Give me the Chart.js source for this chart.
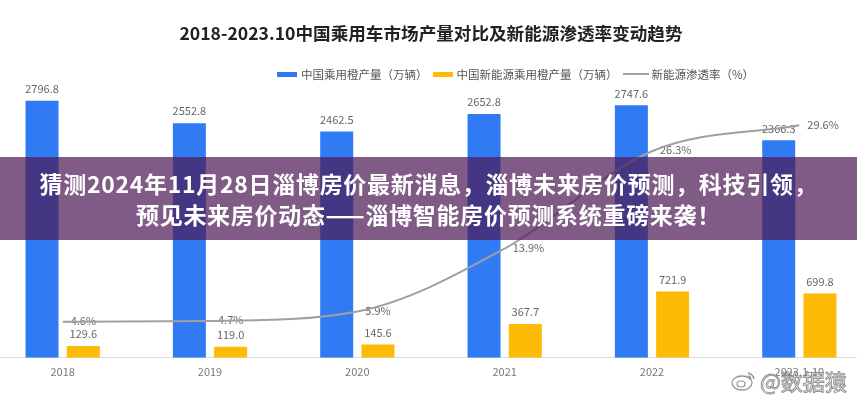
<!DOCTYPE html>
<html>
<head>
<meta charset="utf-8">
<script src="https://cdn.jsdelivr.net/npm/chart.js@4.4.0/dist/chart.umd.min.js"></script>
<style>
  body { margin: 0; width: 857px; height: 400px; overflow: hidden; background: #fff; position: relative;
         font-family: "Noto Sans CJK SC", sans-serif; }
  /* chart is a bit wider than the window: the source picture is cropped at both sides */
  #wrap { position: absolute; left: -11px; top: 0; width: 884px; height: 400px; }
  #legend { position: absolute; left: 277px; top: 65px; display: flex; align-items: center;
            font-size: 11.5px; color: #555; white-space: nowrap; line-height: 18px; }
  #legend .mk { display: inline-block; width: 20px; height: 5px; margin-right: 4px; }
  #legend .ln { display: inline-block; width: 26px; height: 2px; margin-right: 3px; }
  #legend .item { display: flex; align-items: center; margin-right: 5px; }
  #banner { position: absolute; left: 0; top: 157px; width: 857px; height: 83px;
            background: rgba(78, 28, 88, 0.72); color: #fff; text-align: center;
            font-weight: bold; font-size: 23px; letter-spacing: 0.7px; line-height: 31px;
            padding-top: 11px; box-sizing: border-box; }
  #mark { position: absolute; left: 731px; top: 364px; display: flex; align-items: center;
          font-size: 22px; color: rgba(255,255,255,0.85); -webkit-text-stroke: 1px rgba(110,110,110,0.75); }
</style>
</head>
<body>
<div id="wrap"><canvas id="c"></canvas></div>
<div id="legend"></div>
<div id="banner">猜测2024年11月28日淄博房价最新消息，淄博未来房价预测，科技引领，<br>预见未来房价动态——淄博智能房价预测系统重磅来袭！</div>
<div id="mark">
  <svg width="26" height="22" viewBox="0 0 26 22">
    <ellipse cx="11" cy="14" rx="10" ry="7" fill="rgba(255,255,255,0.8)" stroke="rgba(110,110,110,0.75)" stroke-width="1.3"/>
    <ellipse cx="10" cy="15" rx="4" ry="3" fill="none" stroke="rgba(110,110,110,0.75)" stroke-width="1.2"/>
    <path d="M17 4 q5 1 6 6 M17 7 q2 0 3 3" fill="none" stroke="rgba(110,110,110,0.75)" stroke-width="1.3"/>
  </svg>
  <span style="margin-left:3px">@数据猿</span>
</div>
<script>
const years = ["2018", "2019", "2020", "2021", "2022", "2023.1-10"];
const totalOutput = [2796.8, 2552.8, 2462.5, 2652.8, 2747.6, 2366.3];   // 中国乘用车产量（万辆）
const nevOutput = [129.6, 119.0, 145.6, 367.7, 721.9, 699.8];           // 新能源乘用车产量（万辆）
const penetration = [4.6, 4.7, 5.9, 13.9, 26.3, 29.6];                  // 新能源渗透率（%）

const seriesNames = ["中国乘用橙产量（万辆）", "中国新能源乘用橙产量（万辆）", "新能源渗透率（%）"];
const BLUE = "#307bf4";
const YELLOW = "#fdbb05";
const GREY = "#a0a0a0";

const Y_MAX = 3000;
const Y2_MAX = 35.1;

// value labels, drawn before the datasets so the line crosses them like in the source
const valueLabels = {
  id: "valueLabels",
  beforeDatasetsDraw(chart) {
    const ctx = chart.ctx;
    ctx.save();
    ctx.font = '11px "Noto Sans CJK SC"';
    ctx.fillStyle = "#666";
    ctx.textBaseline = "middle";
    chart.data.datasets.forEach((ds, i) => {
      const meta = chart.getDatasetMeta(i);
      meta.data.forEach((el, j) => {
        const v = ds.data[j];
        if (ds.type === "line") {
          ctx.textAlign = "left";
          ctx.fillText(v.toFixed(1) + "%", el.x + 8, el.y - 1);
        } else {
          ctx.textAlign = "center";
          ctx.fillText(v.toFixed(1), el.x, el.y - 12);
        }
      });
    });
    ctx.restore();
  },
};

const chart = new Chart(document.getElementById("c"), {
  data: {
    labels: years,
    datasets: [
      {
        type: "line",
        label: seriesNames[2],
        data: penetration,
        yAxisID: "y2",
        borderColor: GREY,
        borderWidth: 2,
        pointRadius: 0,
        cubicInterpolationMode: "monotone",
        order: 0,
      },
      {
        type: "bar",
        label: seriesNames[0],
        data: totalOutput,
        backgroundColor: BLUE,
        categoryPercentage: 0.56,
        barPercentage: 0.8,
        order: 1,
      },
      {
        type: "bar",
        label: seriesNames[1],
        data: nevOutput,
        backgroundColor: YELLOW,
        categoryPercentage: 0.56,
        barPercentage: 0.8,
        order: 2,
      },
    ],
  },
  options: {
    responsive: true,
    maintainAspectRatio: false,
    animation: false,
    layout: { padding: { top: 0, bottom: 15, left: 0, right: 0 } },
    plugins: {
      legend: { display: false },
      tooltip: { enabled: false },
      title: {
        display: true,
        text: "2018-2023.10中国乘用车市场产量对比及新能源渗透率变动趋势",
        color: "#222",
        font: { family: "Noto Sans CJK SC", size: 17.6, weight: "bold", lineHeight: 1.2 },
        padding: { top: 22.5, bottom: 38.5 },
      },
    },
    scales: {
      x: {
        grid: { display: false, drawTicks: false },
        border: { display: true, color: "#dcdcdc", width: 1 },
        ticks: { color: "#777", padding: 7, font: { family: "Noto Sans CJK SC", size: 11 } },
      },
      y: { display: false, min: 0, max: Y_MAX },
      y2: { display: false, min: 0, max: Y2_MAX, position: "right" },
    },
  },
  plugins: [valueLabels],
});

// legend built from the chart's datasets (order: blue, yellow, line)
const legendEl = document.getElementById("legend");
[1, 2, 0].forEach((i) => {
  const ds = chart.data.datasets[i];
  const item = document.createElement("span");
  item.className = "item";
  const mk = document.createElement("span");
  if (ds.type === "line") {
    mk.className = "ln";
    mk.style.background = ds.borderColor;
  } else {
    mk.className = "mk";
    mk.style.background = ds.backgroundColor;
  }
  item.appendChild(mk);
  item.appendChild(document.createTextNode(ds.label));
  legendEl.appendChild(item);
});
</script>
</body>
</html>
